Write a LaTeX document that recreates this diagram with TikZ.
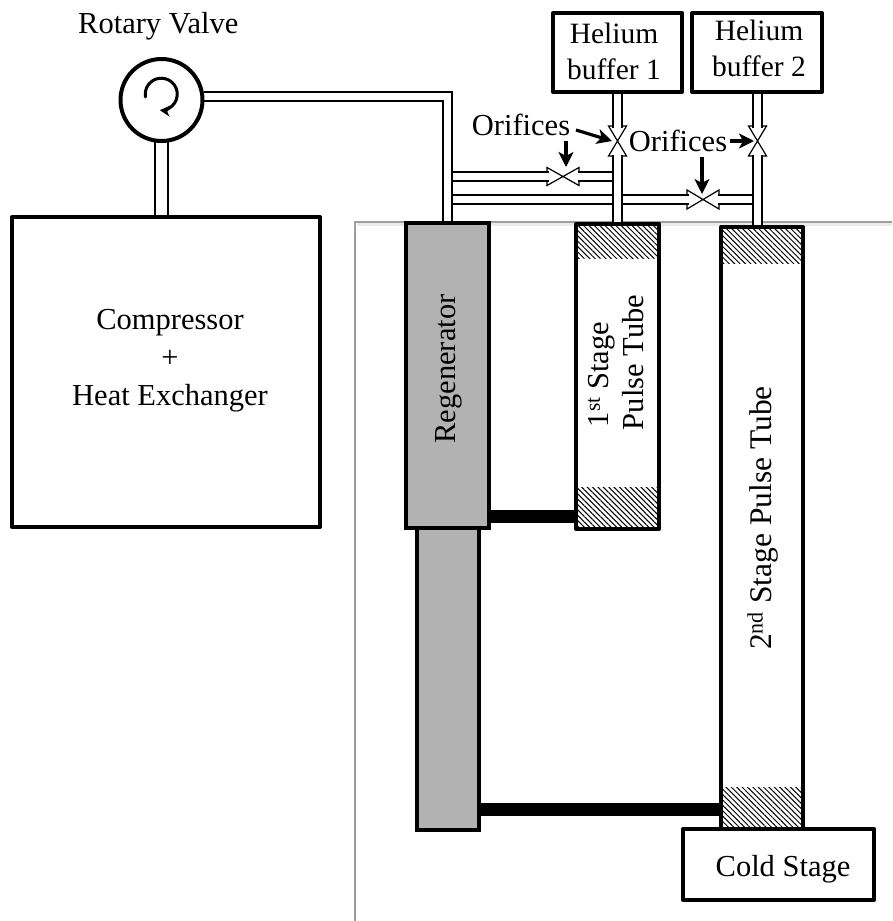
\documentclass[tikz,border=0pt]{standalone}
\usepackage{fontspec}
\setmainfont{Liberation Serif}
\usetikzlibrary{arrows.meta,patterns.meta,calc}
\tikzset{
  x=1pt,y=-1pt,
  box/.style={draw=black,line width=4pt,fill=white,line join=round},
  greybox/.style={draw=black,line width=3.5pt,fill=black!30,line join=miter},
  pipe/.style={draw=black,line width=1.3pt,double=white,double distance=7.7pt,line join=miter},
  widepipe/.style={draw=black,line width=1.3pt,double=white,double distance=11.7pt},
  rule/.style={draw=black!38,line width=1.2pt},
  ruleshadow/.style={draw=black!8,line width=3pt},
  valve/.style={draw=black,line width=1.2pt,fill=white,line join=miter},
  link/.style={draw=black,line width=13pt},
  callout/.style={draw=black,line width=3.2pt,-{Stealth[length=15pt,width=15pt,inset=4pt]}},
  hatch/.style={pattern={Lines[angle=-45,distance=3.8pt,line width=1pt]},pattern color=black},
  lab/.style={font=\fontsize{30.5}{35}\selectfont,inner sep=0pt,align=center},
}
\begin{document}
\begin{tikzpicture}
\useasboundingbox (0,0) rectangle (892,921);
% background rule
\coordinate (r0) at (355,921);
\coordinate (r1) at (355,222);
\coordinate (r2) at (892,222);
\coordinate (s1) at (357,224);
\coordinate (s2) at (892,224);
\draw[ruleshadow] (s1) -- (s2);
\draw[rule] (r0) -- (r1) -- (r2);
% named junctions
\coordinate (vc) at (161.5,100);
\coordinate (a0) at (204,96.5);
\coordinate (a1) at (447.5,96.5);
\coordinate (a2) at (447.5,223);
\coordinate (b1) at (452,176.5);
\coordinate (b2) at (548.5,176.5);
\coordinate (b3) at (577.5,176.5);
\coordinate (b4) at (613,176.5);
\coordinate (c1) at (452,199.5);
\coordinate (c2) at (688.5,199.5);
\coordinate (c3) at (717.5,199.5);
\coordinate (c4) at (753,199.5);
\coordinate (d1) at (617.5,93);
\coordinate (d2) at (617.5,127.5);
\coordinate (d3) at (617.5,154.5);
\coordinate (d4) at (617.5,224);
\coordinate (e1) at (757.5,93);
\coordinate (e2) at (757.5,127.5);
\coordinate (e3) at (757.5,154.5);
\coordinate (e4) at (757.5,227);
\coordinate (f1) at (161.5,141);
\coordinate (f2) at (161.5,217);
% valves
\draw[valve,shift={(563,176.5)}] (-16,-9) -- (16,9) -- (16,-9) -- (-16,9) -- cycle;
\draw[valve,shift={(703,199.5)}] (-16,-9.5) -- (16,9.5) -- (16,-9.5) -- (-16,9.5) -- cycle;
\draw[valve,shift={(617.5,141)}] (-9,-15) -- (9,15) -- (-9,15) -- (9,-15) -- cycle;
\draw[valve,shift={(757.5,141)}] (-9,-15) -- (9,15) -- (-9,15) -- (9,-15) -- cycle;
% pipes
\draw[pipe] (b1) -- (b2);
\draw[pipe] (b3) -- (b4);
\draw[pipe] (c1) -- (c2);
\draw[pipe] (c3) -- (c4);
\draw[pipe] (a0) -- (a1) -- (a2);
\draw[pipe] (d1) -- (d2);
\draw[pipe] (d3) -- (d4);
\draw[pipe] (e1) -- (e2);
\draw[pipe] (e3) -- (e4);
\draw[widepipe] (f1) -- (f2);
% main boxes
\node[box,minimum size=82pt,circle,inner sep=0pt] (rotary) at (vc) {};
\draw[line width=3pt,line cap=round,-{Stealth[length=10pt,width=11pt,inset=3pt]}] ($(vc)+(-16,-3)$) arc[start angle=190,end angle=-95,radius=16pt];
\node[box,minimum width=308pt,minimum height=310pt,inner sep=0pt] (compressor) at (166,372) {};
\node[lab,font=\fontsize{30.5}{38}\selectfont] (comptext) at (170,361) {Compressor\\+\\Heat Exchanger};
\node[lab,anchor=west] (rvtext) at (78,26) {Rotary Valve};
\node[box,minimum width=129pt,minimum height=79pt,inner sep=0pt] (hb1) at (617.5,52.5) {};
\node[lab,font=\fontsize{29.5}{36}\selectfont] at (614,51) {Helium\\buffer 1};
\node[box,minimum width=130pt,minimum height=79pt,inner sep=0pt] (hb2) at (757,52.5) {};
\node[lab,font=\fontsize{29.5}{36}\selectfont] at (759,48) {Helium\\buffer 2};
% links
\coordinate (l1a) at (488,516.5);
\coordinate (l1b) at (577,516.5);
\coordinate (l2a) at (478,809.5);
\coordinate (l2b) at (722,809.5);
\draw[link] (l1a) -- (l1b);
\draw[link] (l2a) -- (l2b);
% regenerator
\node[greybox,minimum width=62pt,minimum height=302pt,inner sep=0pt] (regen2) at (448,679) {};
\node[greybox,minimum width=83pt,minimum height=305pt,inner sep=0pt] (regen1) at (447.5,375.5) {};
\node[lab,rotate=90,font=\fontsize{30.5}{35}\selectfont] at (449,369) {Regenerator};
% pulse tubes
\node[box,minimum width=83pt,minimum height=305pt,inner sep=0pt] (pt1) at (617.5,376.5) {};
\fill[hatch] (578,226) rectangle (657,258);
\fill[hatch] (578,487) rectangle (657,527);
\node[lab,rotate=90,align=left] at (616,362.5) {\hspace*{3pt}1\textsuperscript{st} Stage\\Pulse Tube};
\node[box,minimum width=82pt,minimum height=602pt,inner sep=0pt] (pt2) at (762,528) {};
\fill[hatch] (723,229) rectangle (801,263);
\fill[hatch] (723,787) rectangle (801,827);
\node[lab,rotate=90,font=\fontsize{31.5}{36}\selectfont] at (763,518) {2\textsuperscript{nd} Stage Pulse Tube};
% cold stage
\node[box,minimum width=191pt,minimum height=71pt,inner sep=0pt] (cold) at (778.5,864.5) {};
\node[lab] at (783,869) {Cold Stage};
% orifices
\node[lab] (o1) at (521,125) {Orifices};
\node[lab] (o2) at (678,141) {Orifices};
\coordinate (o1a) at (576,130);
\coordinate (o1b) at (612,141);
\coordinate (o2a) at (730,141);
\coordinate (o2b) at (754,141);
\coordinate (o3a) at (566,141);
\coordinate (o3b) at (566,167);
\coordinate (o4a) at (702,157);
\coordinate (o4b) at (702,194);
\draw[callout] (o1a) -- (o1b);
\draw[callout] (o2a) -- (o2b);
\draw[callout] (o3a) -- (o3b);
\draw[callout] (o4a) -- (o4b);
\end{tikzpicture}
\end{document}
